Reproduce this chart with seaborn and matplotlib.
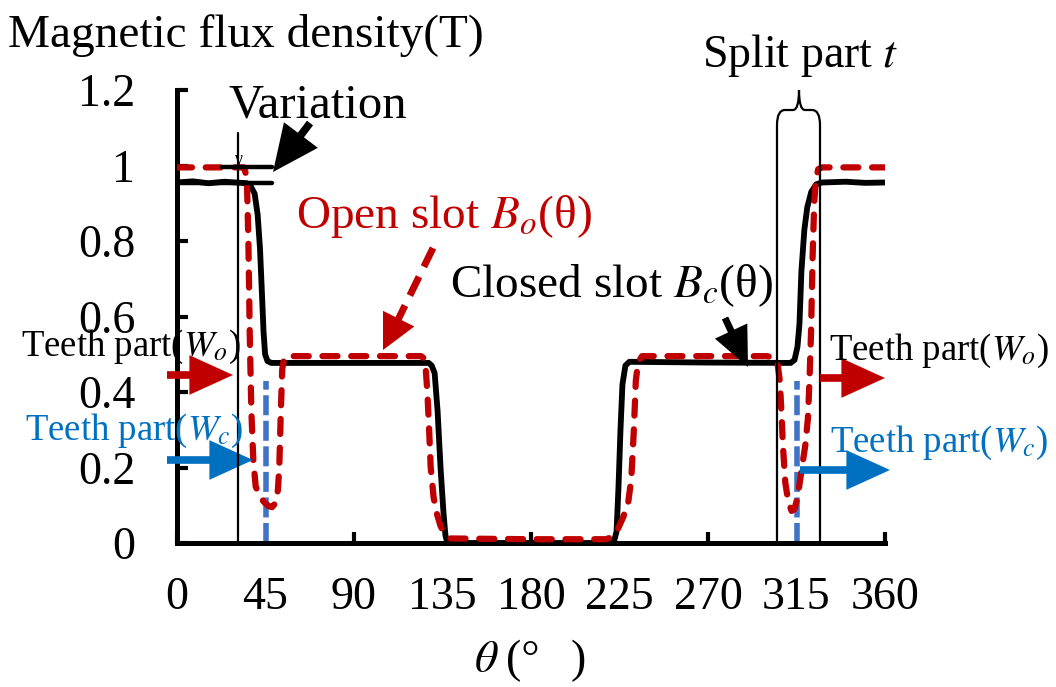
import numpy as np
import pandas as pd
import matplotlib
matplotlib.use("Agg")
import matplotlib.pyplot as plt
import seaborn as sns
from matplotlib.patches import FancyArrowPatch, PathPatch
from matplotlib.path import Path

# ---------------- data ----------------
theta_closed = [0, 8, 16, 24, 30, 35.5, 37.5, 39.5, 41, 42.2, 43.2, 44, 44.8, 46, 48,
                90, 128, 129.5, 131, 132.5, 134, 135.5, 136.5, 137.5,
                180, 222, 223.5, 224.5, 225.5, 226.5, 228, 230,
                270, 312, 314, 315.5, 316.5, 317.5, 319, 320.5, 322.5, 325, 328,
                340, 350, 360]
b_closed = [0.955, 0.958, 0.953, 0.957, 0.955, 0.953, 0.945, 0.925, 0.87, 0.78, 0.66, 0.56, 0.50, 0.482, 0.477,
            0.477, 0.477, 0.47, 0.45, 0.35, 0.2, 0.08, 0.02, 0.0,
            0.0, 0.0, 0.03, 0.15, 0.3, 0.42, 0.47, 0.48,
            0.478, 0.477, 0.485, 0.52, 0.58, 0.72, 0.83, 0.89, 0.93, 0.95, 0.955,
            0.957, 0.954, 0.955]

theta_open = [0, 34, 35.5, 36.3, 37, 37.8, 38.8, 40, 42, 44, 46.5, 48.3, 50, 51.3, 52, 52.8, 53.5, 54.5, 56,
              124, 125.5, 126.5, 127.3, 128.2, 129, 130.5, 132, 134, 136, 139,
              180, 218, 221, 224, 227, 229.5, 231, 232.3, 233.3, 234.5, 236.5,
              300, 304, 305.5, 306.5, 307.3, 308.2, 309.3, 310.8, 312.5, 314, 315.5, 317.5, 319.5,
              320.8, 321.6, 322.4, 323.2, 324, 324.8, 326, 328, 360]
b_open = [0.995, 0.995, 0.97, 0.8, 0.55, 0.35, 0.22, 0.15, 0.125, 0.11, 0.098, 0.095, 0.105, 0.14, 0.2, 0.35, 0.46, 0.49, 0.495,
          0.495, 0.49, 0.46, 0.4, 0.3, 0.2, 0.12, 0.08, 0.045, 0.025, 0.012,
          0.01, 0.01, 0.015, 0.035, 0.07, 0.11, 0.17, 0.3, 0.43, 0.48, 0.495,
          0.495, 0.49, 0.47, 0.43, 0.35, 0.25, 0.16, 0.11, 0.085, 0.09, 0.12, 0.19, 0.26,
          0.33, 0.43, 0.56, 0.76, 0.9, 0.96, 0.99, 0.995, 0.995]

teeth_theta = [45, 315]
teeth_top = 0.43

x_major = [0, 90, 180, 270, 360]
x_major_labels = ["0", "90", "180", "270", "360"]
x_minor = [45, 135, 225, 315]
x_minor_labels = ["45", "135", "225", "315"]
y_ticks = [0, 0.2, 0.4, 0.6, 0.8, 1.0, 1.2]
y_tick_labels = ["0", "0.2", "0.4", "0.6", "0.8", "1", "1.2"]

# ---------------- style ----------------
sns.set_style("white")
plt.rcParams["font.family"] = ["Liberation Serif", "DejaVu Serif"]
plt.rcParams["mathtext.fontset"] = "stix"

RED = "#C00000"
BLUE = "#0070C0"
BLUE_LINE = "#3F73C6"

W, H = 1056, 687
fig = plt.figure(figsize=(W / 100, H / 100), dpi=100)
ax = fig.add_axes([177 / W, 1 - 543 / H, (885 - 177) / W, (543 - 90) / H])
ax.set_facecolor("none")


def F(x, y):
    return (x / W, 1 - y / H)


# thin reference lines (decorations)
fig.add_artist(plt.Line2D([238 / W, 238 / W], [1 - 543 / H, 1 - 133 / H], color="black", lw=1.6))
brace = Path(
    [F(777, 543), F(777, 125), F(777, 110), F(785, 110), F(793, 110), F(799, 110), F(799, 90),
     F(799, 110), F(805, 110), F(812, 110), F(820, 110), F(820, 125), F(820, 543)],
    [Path.MOVETO, Path.LINETO, Path.CURVE3, Path.CURVE3, Path.LINETO, Path.CURVE3, Path.CURVE3,
     Path.CURVE3, Path.CURVE3, Path.LINETO, Path.CURVE3, Path.CURVE3, Path.LINETO])
fig.add_artist(PathPatch(brace, transform=fig.transFigure, fill=False, edgecolor="black", lw=1.6))

# teeth centre lines
for t in teeth_theta:
    ax.vlines(t, 0, teeth_top, colors=BLUE_LINE, lw=4.0, linestyles=(0, (3.6, 1.0)), zorder=2)

df_c = pd.DataFrame({"theta": theta_closed, "B": b_closed})
df_o = pd.DataFrame({"theta": theta_open, "B": b_open})
sns.lineplot(data=df_c, x="theta", y="B", ax=ax, color="black", lw=4.2, estimator=None, sort=False, zorder=3)
sns.lineplot(data=df_o, x="theta", y="B", ax=ax, color=RED, lw=4.5, estimator=None, sort=False, zorder=4)
ax.lines[-1].set_dashes((2.4, 2.2))
ax.lines[-1].set_dash_capstyle("round")
ax.lines[-2].set_solid_capstyle("butt")
ax.lines[-2].set_solid_joinstyle("round")

ax.set_xlim(0, 360)
ax.set_ylim(0, 1.2)
ax.set_xlabel("")
ax.set_ylabel("")
for s in ["top", "right"]:
    ax.spines[s].set_visible(False)
for s in ["left", "bottom"]:
    ax.spines[s].set_linewidth(3.6)
    ax.spines[s].set_color("black")
    ax.spines[s].set_capstyle("projecting")

ax.set_xticks(x_major)
ax.set_xticklabels(x_major_labels)
ax.set_xticks(x_minor, minor=True)
ax.set_xticklabels(x_minor_labels, minor=True)
ax.set_yticks(y_ticks)
ax.set_yticklabels(y_tick_labels)
ax.tick_params(axis="x", which="major", direction="in", length=8, width=3, pad=24, labelsize=33, colors="black")
ax.tick_params(axis="x", which="minor", direction="in", length=0, width=0, pad=24, labelsize=33, colors="black")
ax.tick_params(axis="y", which="major", direction="in", length=8, width=3, pad=30, labelsize=33, colors="black")
ax.tick_params(left=True, bottom=True)

# ---------------- texts ----------------
def T(x, y, s, size, color="black", ha="left"):
    fig.text(x / W, 1 - y / H, s, fontsize=size, color=color, ha=ha, va="baseline")


T(8, 47, "Magnetic flux density(T)", 34)
T(318, 118, "Variation", 35, ha="center")
T(800, 67, r"Split part $t$", 33, ha="center")
T(444, 228, r"Open slot $B_o$(θ)", 34, color=RED, ha="center")
T(611, 297, r"Closed slot $B_c$(θ)", 34, ha="center")
T(131, 356, r"Teeth part($W_o$)", 26.5, ha="center")
T(134, 440, r"Teeth part($W_c$)", 26.5, color=BLUE, ha="center")
T(939, 360, r"Teeth part($W_o$)", 26.5, ha="center")
T(939, 452, r"Teeth part($W_c$)", 26.5, color=BLUE, ha="center")
T(486, 672, r"$\theta$", 33, ha="center")
T(506, 672, "(°", 33)
T(578, 672, ")", 33, ha="center")
T(238, 164, "γ", 13, ha="center")

# variation marks
fig.add_artist(plt.Line2D([222 / W, 272 / W], [1 - 167 / H] * 2, color="black", lw=3.2))
fig.add_artist(plt.Line2D([182 / W, 272 / W], [1 - 183 / H] * 2, color="black", lw=3.2))


def arrow(p0, p1, color, lw, hl, hw, ls="-"):
    a = FancyArrowPatch(F(*p0), F(*p1), transform=fig.transFigure,
                        arrowstyle=f"-|>,head_length={hl},head_width={hw}",
                        mutation_scale=10, color=color, lw=lw, shrinkA=0, shrinkB=0,
                        joinstyle="miter", capstyle="butt")
    fig.add_artist(a)


arrow((310, 123), (273, 172), "black", 5.5, 2.4, 1.1)
# dashed shaft + solid head for the open-slot arrow
fig.add_artist(plt.Line2D([433 / W, 395 / W], [1 - 248 / H, 1 - 326 / H], color=RED, lw=5, dashes=(3, 1.6)))
arrow((397, 322), (383, 350), RED, 2, 2.2, 1.1)
arrow((725, 318), (748, 367), "black", 5, 2.0, 0.9)
arrow((167, 375), (233, 375), RED, 5.5, 2.2, 1.0)
arrow((167, 460), (253, 460), BLUE, 5.5, 2.2, 1.0)
arrow((820, 378), (885, 378), RED, 5.5, 2.2, 1.0)
arrow((800, 470), (890, 470), BLUE, 5.5, 2.2, 1.0)

fig.savefig("out.png", dpi=100)
